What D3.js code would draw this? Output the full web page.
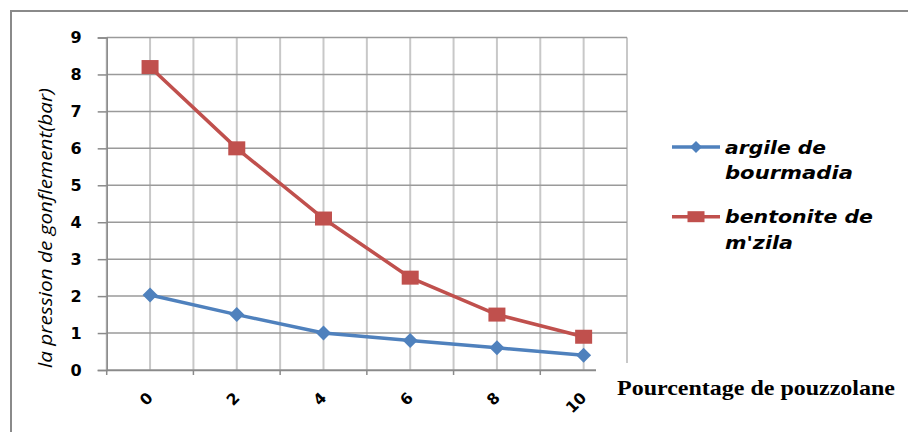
<!DOCTYPE html>
<html>
<head>
<meta charset="utf-8">
<script src="https://cdn.jsdelivr.net/npm/d3@7"></script>
<style>
  html, body { margin: 0; padding: 0; background: #fff; }
  svg { display: block; }
</style>
</head>
<body>
<svg id="chart" width="908" height="432"></svg>
<script>
// ---- data ----
const categories = ["0", "2", "4", "6", "8", "10"];
const argileValues = [2.03, 1.5, 1.0, 0.8, 0.6, 0.4];
const bentoniteValues = [8.2, 6.0, 4.1, 2.5, 1.5, 0.9];
const yTicks = [0, 1, 2, 3, 4, 5, 6, 7, 8, 9];
const seriesNames = [["argile de", "bourmadia"], ["bentonite de", "m'zila"]];
const yTitle = "la pression de gonflement(bar)";
const xTitle = "Pourcentage de pouzzolane";

const blue = "#4F81BD", red = "#C0504D";
const svg = d3.select("#chart");

// outer chart border
svg.append("rect").attr("x", 11).attr("y", 11).attr("width", 920).attr("height", 440)
  .attr("fill", "#fff").attr("stroke", "#8a8a8a").attr("stroke-width", 2);

const x = d3.scaleBand().domain(categories).range([106.7, 627]);
const y = d3.scaleLinear().domain([0, 9]).range([370, 37.5]);

// vertical gridlines (band edges and centres)
const vLines = [];
categories.forEach(c => { vLines.push(x(c)); vLines.push(x(c) + x.bandwidth() / 2); });
vLines.push(x.range()[1]);
svg.append("g").selectAll("line").data(vLines).join("line")
  .attr("x1", d => d).attr("x2", d => d).attr("y1", y(9)).attr("y2", y(0))
  .attr("stroke", "#c8c8c8").attr("stroke-width", 2);

// horizontal gridlines
svg.append("g").selectAll("line").data(yTicks).join("line")
  .attr("x1", x.range()[0]).attr("x2", x.range()[1])
  .attr("y1", d => y(d)).attr("y2", d => y(d))
  .attr("stroke", "#9a9a9a").attr("stroke-width", 1.5);

// y axis
const yAxis = d3.axisLeft(y).tickValues(yTicks).tickSize(9).tickPadding(16).tickFormat(d3.format("d"));
const gy = svg.append("g").attr("transform", `translate(${x.range()[0]},0)`).call(yAxis);
gy.select(".domain").attr("stroke", "#8a8a8a").attr("stroke-width", 1.5);
gy.selectAll(".tick line").attr("stroke", "#8a8a8a").attr("stroke-width", 1.5);
gy.selectAll(".tick text").attr("font-family", "'DejaVu Sans', sans-serif").attr("font-weight", "bold")
  .attr("font-size", 16).attr("fill", "#000");

// x axis
const xAxis = d3.axisBottom(x).tickSize(0).tickFormat(d => d);
const gx = svg.append("g").attr("transform", `translate(0,${y(0)})`).call(xAxis);
gx.select(".domain").attr("stroke", "#8a8a8a").attr("stroke-width", 1.5);
gx.selectAll(".tick text")
  .attr("font-family", "'DejaVu Sans', sans-serif").attr("font-weight", "bold").attr("font-size", 15.5)
  .attr("fill", "#000").attr("text-anchor", "end")
  .attr("transform", "translate(0,25) rotate(-45)").attr("x", 0).attr("y", 0).attr("dy", "0.35em");
// x tick marks at band edges
const edges = categories.map(c => x(c)).concat([x.range()[1]]);
gx.append("g").selectAll("line").data(edges).join("line")
  .attr("x1", d => d).attr("x2", d => d).attr("y1", 0).attr("y2", 5)
  .attr("stroke", "#8a8a8a").attr("stroke-width", 1.5);

// series
const line = d3.line().x((d, i) => x(categories[i]) + x.bandwidth() / 2).y(d => y(d));
svg.append("path").datum(argileValues).attr("d", line)
  .attr("fill", "none").attr("stroke", blue).attr("stroke-width", 3.5);
svg.append("path").datum(bentoniteValues).attr("d", line)
  .attr("fill", "none").attr("stroke", red).attr("stroke-width", 3.5);

const diamond = (cx, cy, w, h) => `M${cx},${cy - h / 2}L${cx + w / 2},${cy}L${cx},${cy + h / 2}L${cx - w / 2},${cy}Z`;
svg.append("g").selectAll("path").data(argileValues).join("path")
  .attr("d", (d, i) => diamond(x(categories[i]) + x.bandwidth() / 2, y(d), 15, 15))
  .attr("fill", blue);
svg.append("g").selectAll("rect").data(bentoniteValues).join("rect")
  .attr("x", (d, i) => x(categories[i]) + x.bandwidth() / 2 - 8.5)
  .attr("y", d => y(d) - 7).attr("width", 17).attr("height", 14)
  .attr("fill", red);

// white box behind x-title (covers part of plot frame as in the original)
svg.append("rect").attr("x", 596).attr("y", 363).attr("width", 312).attr("height", 69).attr("fill", "#fff");
svg.append("text").attr("x", 617).attr("y", 395)
  .attr("font-family", "'Liberation Serif', 'Times New Roman', serif").attr("font-weight", "bold")
  .attr("font-size", 21.5).attr("fill", "#000")
  .attr("textLength", 278).attr("lengthAdjust", "spacingAndGlyphs").text(xTitle);

// y title
svg.append("text").attr("transform", "translate(52,228) rotate(-90)")
  .attr("text-anchor", "middle")
  .attr("font-family", "'Open Sans', sans-serif").attr("font-style", "italic")
  .attr("font-size", 18).attr("fill", "#000")
  .attr("textLength", 280).attr("lengthAdjust", "spacingAndGlyphs").text(yTitle);

// legend
const legY = [147, 216.7];
const legColors = [blue, red];
const legWidths = [[101, 128], [148, 68]];
legY.forEach((ly, k) => {
  svg.append("line").attr("x1", 672).attr("x2", 720).attr("y1", ly).attr("y2", ly)
    .attr("stroke", legColors[k]).attr("stroke-width", 3.5);
  if (k === 0) {
    svg.append("path").attr("d", diamond(696, ly, 12, 12)).attr("fill", blue);
  } else {
    svg.append("rect").attr("x", 687.5).attr("y", ly - 5.5).attr("width", 17).attr("height", 11).attr("fill", red);
  }
  seriesNames[k].forEach((s, j) => {
    svg.append("text").attr("x", 725).attr("y", ly + 6.5 + j * 25.5)
      .attr("font-family", "'DejaVu Sans', sans-serif").attr("font-style", "italic").attr("font-weight", "bold")
      .attr("font-size", 18.5).attr("fill", "#000")
      .attr("textLength", legWidths[k][j]).attr("lengthAdjust", "spacingAndGlyphs").text(s);
  });
});
</script>
</body>
</html>
